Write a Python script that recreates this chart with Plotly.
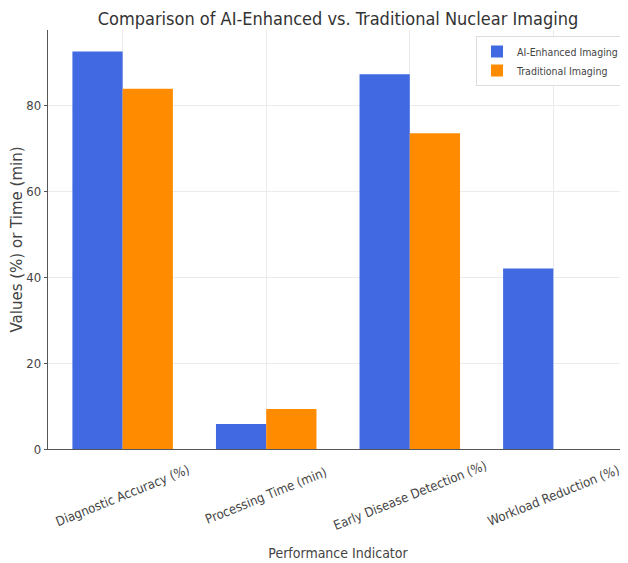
import plotly.graph_objects as go

categories = ["Diagnostic Accuracy (%)", "Processing Time (min)",
              "Early Disease Detection (%)", "Workload Reduction (%)"]
ai_values = [92.5, 5.8, 87.2, 42.0]
trad_values = [83.8, 9.3, 73.5, 0.0]
series_names = ["AI-Enhanced Imaging", "Traditional Imaging"]
y_ticks = [0, 20, 40, 60, 80]

COND = "DejaVu Sans Condensed, Liberation Sans Narrow, DejaVu Sans"
FONT = "DejaVu Sans"
TXT = "#444444"

W, H = 620, 555
L, R, T, B = 40, 0, 22, 114
plot_h = H - T - B
plot_w = W - L - R

fig = go.Figure()
fig.add_trace(go.Bar(x=categories, y=ai_values, name=series_names[0],
                     marker=dict(color="#4169E1", line=dict(width=0)),
                     offset=-0.35, width=0.35))
fig.add_trace(go.Bar(x=categories, y=trad_values, name=series_names[1],
                     marker=dict(color="#FF8C00", line=dict(width=0)),
                     offset=0.0, width=0.35))

annotations = []
for c in categories:
    annotations.append(dict(x=c, xref="x", y=-46 / plot_h, yref="paper",
                            text=c, showarrow=False, textangle=-22,
                            xanchor="center", yanchor="middle",
                            font=dict(family=COND, size=13, color=TXT)))

fig.update_layout(
    width=W, height=H,
    margin=dict(l=L, r=R, t=T, b=B),
    paper_bgcolor="white", plot_bgcolor="white",
    barmode="overlay",
    title=dict(text="Comparison of AI-Enhanced vs. Traditional Nuclear Imaging",
               x=330 / W, xanchor="center",
               y=1 - 11 / H, yanchor="middle", yref="container",
               font=dict(family=COND, size=18, color="#333333")),
    legend=dict(x=(468 - L) / plot_w, xanchor="left", y=1 - 6 / plot_h,
                yanchor="top",
                bgcolor="rgba(255,255,255,0.9)", bordercolor="#dddddd",
                borderwidth=1, font=dict(family=COND, size=10.5, color=TXT),
                tracegroupgap=0, itemwidth=30),
    xaxis=dict(range=[-0.52, 3.52], showticklabels=False,
               showgrid=True, gridcolor="#ebebeb", gridwidth=1,
               showline=True, linecolor="#555555", linewidth=1.3,
               ticks="", zeroline=False,
               title=dict(text="Performance Indicator", standoff=99,
                          font=dict(family=COND, size=14, color=TXT))),
    yaxis=dict(range=[0, 97.5], tickvals=y_ticks,
               showgrid=True, gridcolor="#ebebeb", gridwidth=1,
               showline=True, linecolor="#555555", linewidth=1.3,
               ticks="outside", ticklen=3, tickcolor="#555555",
               zeroline=False,
               tickfont=dict(family=COND, size=13, color=TXT),
               title=dict(text="Values (%) or Time (min)", standoff=8,
                          font=dict(family=FONT, size=15, color=TXT))),
    annotations=annotations,
    bargap=0.3,
)

fig.write_html("out.html")
